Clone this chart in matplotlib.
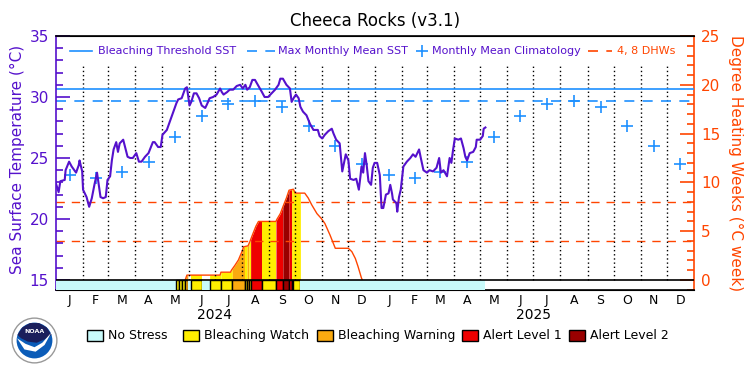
"""Cheeca Rocks coral reef watch chart -> out.png"""
import numpy as np
import matplotlib
matplotlib.use('Agg')
import matplotlib.pyplot as plt
from matplotlib.patches import Rectangle, Circle, Polygon
from matplotlib.lines import Line2D
from matplotlib.ticker import MultipleLocator

W, H = 750, 375


def fx(px):
    return px / W


def fy(py):
    return 1 - py / H


# ---- data (days counted from 2024-01-01) ----
sst_day = [0, 3, 5, 10, 11, 15, 18, 23, 26, 27,
           30, 31, 35, 38, 41, 44, 47, 48, 51, 54,
           57, 59, 62, 64, 66, 69, 71, 73, 77, 82,
           85, 88, 92, 95, 98, 102, 106, 111, 113, 117,
           120, 122, 127, 131, 134, 138, 140, 144, 148, 150,
           153, 155, 158, 161, 164, 167, 171, 173, 176, 180,
           184, 188, 190, 192, 196, 199, 203, 207, 211, 214,
           217, 219, 222, 225, 228, 232, 236, 239, 243, 247,
           251, 255, 257, 260, 264, 268, 270, 273, 275, 278,
           280, 283, 287, 291, 295, 300, 302, 305, 308, 312,
           316, 318, 321, 325, 326, 328, 330, 332, 335, 337,
           341, 344, 347, 349, 350, 352, 354, 356, 358, 361,
           363, 365, 368, 371, 373, 375, 378, 381, 383, 385,
           386, 390, 391, 393, 395, 398, 402, 406, 409, 412,
           416, 418, 421, 425, 428, 432, 436, 439, 441, 444,
           448, 451, 453, 455, 457, 461, 464, 467, 469, 471,
           474, 478, 481, 482, 486, 489, 490, 492]
sst_val = [22.9, 22.2, 23.1, 23.2, 24.0, 24.7, 24.3, 23.8, 24.4, 24.8,
           23.9, 22.4, 21.8, 21.0, 21.7, 22.8, 23.8, 23.3, 21.8, 21.7,
           21.8, 23.2, 23.5, 24.8, 25.7, 26.3, 25.5, 26.2, 26.5, 25.1,
           25.0, 25.0, 25.4, 24.7, 24.7, 25.1, 25.4, 26.3, 26.3, 25.9,
           25.9, 26.9, 27.3, 28.1, 28.7, 29.5, 29.8, 29.9, 30.7, 30.8,
           29.3, 29.6, 30.3, 30.3, 29.9, 29.3, 29.1, 29.4, 29.9, 30.0,
           30.2, 30.7, 30.4, 30.2, 30.4, 30.6, 30.6, 30.9, 31.0, 30.7,
           31.0, 30.6, 30.8, 31.4, 31.4, 30.9, 30.4, 30.0, 30.0, 30.3,
           30.6, 31.0, 31.5, 31.5, 31.0, 30.7, 29.6, 30.0, 30.2, 29.9,
           29.2, 28.8, 28.5, 27.8, 27.3, 27.3, 26.8, 26.6, 26.9, 27.2,
           27.4, 27.0, 26.5, 26.2, 25.4, 23.9, 24.6, 25.3, 24.8, 23.3,
           23.2, 23.3, 22.4, 23.6, 24.3, 23.8, 25.4, 24.4, 23.1, 22.8,
           24.2, 24.6, 24.6, 23.6, 20.9, 20.9, 22.0, 22.1, 22.8, 22.1,
           21.6, 21.3, 20.6, 21.8, 22.4, 24.3, 24.7, 25.0, 25.3, 25.1,
           25.7, 25.0, 24.0, 23.8, 24.0, 23.9, 24.2, 25.0, 23.8, 24.0,
           23.5, 25.0, 24.6, 25.7, 26.6, 26.5, 26.6, 25.8, 25.1, 24.8,
           25.4, 25.5, 25.9, 26.5, 26.5, 26.8, 27.4, 27.5]

# monthly mean climatology (Jan..Dec)
clim_val = [23.6, 23.4, 23.85, 24.7, 26.7, 28.45, 29.45, 29.65, 29.2, 27.6, 26.0, 24.5]
mmm = 29.65
threshold = 30.65

dhw_day = [148, 150, 188, 189, 200, 201, 205, 209, 213, 215,
           220, 222, 225, 229, 232, 252, 253, 257, 260, 264,
           267, 272, 274, 285, 289, 293, 299, 304, 308, 314,
           320, 335, 339, 343, 346, 350, 351]
dhw_val = [0, 0.5, 0.5, 0.8, 0.8, 1.0, 1.5, 2.05, 2.9, 3.4,
           3.5, 3.9, 4.6, 5.5, 6.0, 6.0, 6.2, 6.8, 7.5, 8.4,
           9.2, 9.3, 8.9, 8.9, 8.4, 7.7, 6.8, 6.3, 5.8, 4.6,
           3.25, 3.25, 2.9, 2.2, 1.4, 0.2, 0]
dhw_lines = [4, 8]

status_start = [0, 137, 141, 144, 148, 151, 155, 167, 176, 189, 202,
                216, 219, 221, 223, 236, 252, 260, 267, 270, 272, 280]
status_end = [137, 141, 144, 148, 151, 155, 167, 176, 189, 202, 216,
              219, 221, 223, 236, 252, 260, 267, 270, 272, 280, 492]
status_level = [0, 1, 1, 1, 2, 0, 1, 0, 1, 1, 2,
                1, 2, 1, 3, 1, 3, 4, 3, 1, 1, 0]
status_colors = ['#c8fafa', '#ffee00', '#faaa10', '#ee0000', '#990000']
status_names = ['No Stress', 'Bleaching Watch', 'Bleaching Warning', 'Alert Level 1', 'Alert Level 2']

month_letters = list('JFMAMJJASOND')
years = ['2024', '2025']

INDIGO = '#5511cc'
BLUE = '#1e90ff'
ORANGE = '#ff4500'

# month boundaries / mid points
months = np.arange('2024-01', '2026-02', dtype='datetime64[M]').astype('datetime64[D]')
m_start = (months - np.datetime64('2024-01-01')).astype(int)
m_mid = (m_start[:-1] + m_start[1:]) / 2

fig = plt.figure(figsize=(7.5, 3.75), dpi=100)
ax = fig.add_axes([fx(56), fy(290), fx(694) - fx(56), fy(36) - fy(290)])
ax2 = ax.twinx()
ax.set_zorder(ax2.get_zorder() + 1)
ax.patch.set_visible(False)

ybot = 14.18
ax.set_xlim(0, m_start[-1])
ax.set_ylim(ybot, 35)
ax2.set_ylim((ybot - 15) * 1.25, 25)

# DHW fill coloured by daily stress level
for s, e, lvl in zip(status_start, status_end, status_level):
    if lvl == 0:
        continue
    d = np.arange(s, e + 1)
    ax2.fill_between(d, 0, np.interp(d, dhw_day, dhw_val, left=0, right=0),
                     color=status_colors[lvl], lw=0)
ax2.plot(dhw_day, dhw_val, color=ORANGE, lw=1)
for v in dhw_lines:
    ax2.axhline(v, color=ORANGE, lw=1, ls=(0, (6, 5)))

# status bar
for s, e, lvl in zip(status_start, status_end, status_level):
    ax.add_patch(Rectangle((s, ybot), e - s, 15 - ybot, fc=status_colors[lvl],
                           ec='black' if lvl else 'none', lw=1, zorder=3))
ax.axhline(15, color='black', lw=1.2, zorder=4)

# month grid
for d in m_start[1:-1]:
    ax.plot([d, d], [15, 32.6], color='black', ls=(0, (1, 2)), lw=1, zorder=1)

ax.axhline(threshold, color=BLUE, lw=1.2, zorder=2)
ax.axhline(mmm, color=BLUE, lw=1.2, ls=(0, (6, 5)), zorder=2)
ax.plot(m_mid, clim_val * 2, ls='none', marker='+', ms=9, mew=1.2, color=BLUE, zorder=5)
ax.plot(sst_day, sst_val, color=INDIGO, lw=1.5, zorder=6)

# axes styling
ax.set_yticks([15, 20, 25, 30, 35])
ax.yaxis.set_minor_locator(MultipleLocator(1))
ax.tick_params(axis='y', which='major', direction='in', length=10, width=1.2,
               colors=INDIGO, labelsize=11, pad=5)
ax.tick_params(axis='y', which='minor', direction='in', length=5, width=1.2, colors=INDIGO)
ax2.set_yticks([0, 5, 10, 15, 20, 25])
ax2.yaxis.set_minor_locator(MultipleLocator(1))
ax2.tick_params(axis='y', which='major', direction='in', length=10, width=1.2,
                colors=ORANGE, labelsize=11, pad=5)
ax2.tick_params(axis='y', which='minor', direction='in', length=5, width=1.2, colors=ORANGE)
ax.set_xticks(m_mid)
ax.set_xticklabels(month_letters * 2)
ax.tick_params(axis='x', length=0, labelsize=9, pad=3)
ax2.tick_params(axis='x', length=0)

ax.spines['left'].set_color(INDIGO)
ax.spines['right'].set_visible(False)
ax2.spines['left'].set_visible(False)
ax2.spines['right'].set_color(ORANGE)
for sp in ['left', 'top', 'bottom']:
    ax.spines[sp].set_linewidth(1.2)
ax2.spines['right'].set_linewidth(1.2)

for i, yr in enumerate(years):
    ax.text(m_start[12 * i + 6], -0.1, yr, transform=ax.get_xaxis_transform(),
            ha='center', va='center', fontsize=10)

# titles / axis labels
fig.text(0.5, fy(21), 'Cheeca Rocks (v3.1)', ha='center', va='center', fontsize=12)
fig.text(fx(17), fy(159), 'Sea Surface Temperature (°C)', rotation=90, ha='center',
         va='center', fontsize=11, color=INDIGO)
fig.text(fx(736), fy(163), 'Degree Heating Weeks (°C week)', rotation=270, ha='center',
         va='center', fontsize=11, color=ORANGE)

# top legend
ly = fy(51)
fig.lines.append(Line2D([fx(70), fx(92)], [ly, ly], color=BLUE, lw=1.2, transform=fig.transFigure))
fig.text(fx(98), ly, 'Bleaching Threshold SST', color=INDIGO, fontsize=8, va='center')
fig.lines.append(Line2D([fx(247), fx(275)], [ly, ly], color=BLUE, lw=1.2, ls=(0, (6, 5)),
                        transform=fig.transFigure))
fig.text(fx(278), ly, 'Max Monthly Mean SST', color=INDIGO, fontsize=8, va='center')
fig.lines.append(Line2D([fx(422)], [ly], marker='+', ms=9, mew=1.2, color=BLUE,
                        transform=fig.transFigure))
fig.text(fx(432), ly, 'Monthly Mean Climatology', color=INDIGO, fontsize=8, va='center')
fig.lines.append(Line2D([fx(588), fx(612)], [ly, ly], color=ORANGE, lw=1.2, ls=(0, (6, 5)),
                        transform=fig.transFigure))
fig.text(fx(617), ly, '4, 8 DHWs', color=ORANGE, fontsize=8, va='center')

# bottom legend
box_x = [87, 183, 317, 462, 569]
for bx, col, name in zip(box_x, status_colors, status_names):
    fig.patches.append(Rectangle((fx(bx), fy(341)), 16 / W, 11 / H, fc=col, ec='black',
                                 lw=1, transform=fig.transFigure))
    fig.text(fx(bx + 21), fy(335.5), name, fontsize=9, va='center')

# NOAA logo (simplified)
lax = fig.add_axes([fx(11), fy(364), 47 / W, 47 / H])
lax.set_xlim(-1.05, 1.05)
lax.set_ylim(-1.05, 1.05)
lax.set_aspect('equal')
lax.axis('off')
lax.add_patch(Circle((0, 0), 1, fc='white', ec='#999999', lw=1))
lax.add_patch(Circle((0, 0), 0.8, fc='#0b5cb8'))
lax.add_patch(Polygon([(-0.76, 0.25), (-0.55, 0.58), (-0.2, 0.78), (0.2, 0.78), (0.55, 0.58),
                       (0.76, 0.25), (0.45, 0.05), (0.1, -0.1), (-0.3, -0.05), (-0.6, 0.1)],
                      fc='#1b1f5c'))
lax.add_patch(Polygon([(-0.78, 0.1), (-0.4, -0.15), (0.0, -0.3), (0.35, -0.1), (0.75, 0.35),
                       (0.45, -0.2), (0.05, -0.5), (-0.45, -0.4)], fc='white'))
lax.text(0, 0.42, 'NOAA', color='white', fontsize=4.5, fontweight='bold', ha='center', va='center')

fig.savefig('out.png', dpi=100)
